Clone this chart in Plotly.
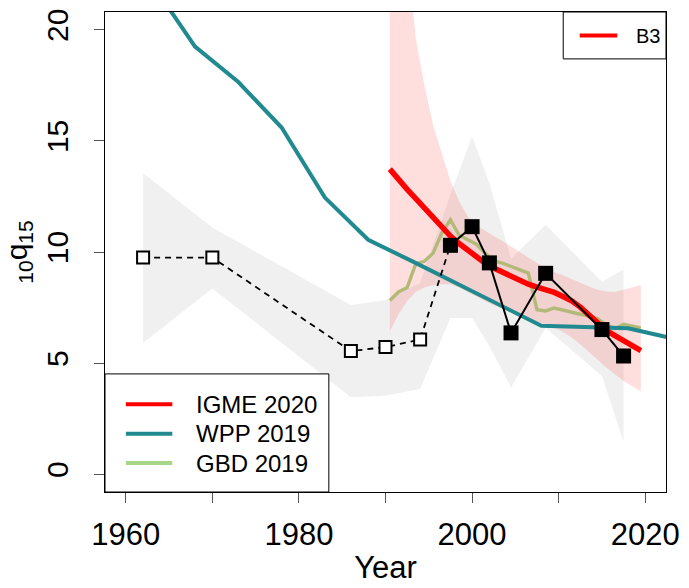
import plotly.graph_objects as go

# ---- data -------------------------------------------------------------
# UN IGME 2020 estimate (annual, plotted at mid-year) with 90% bounds
igme_year = [1990.5 + i for i in range(30)]
igme_val = [13.73, 13.25, 12.82, 12.40, 11.97, 11.54, 11.11, 10.72, 10.38, 10.06,
            9.76, 9.50, 9.28, 9.08, 8.90, 8.72, 8.55, 8.42, 8.33, 8.18,
            8.00, 7.80, 7.52, 7.18, 6.80, 6.47, 6.24, 6.00, 5.78, 5.56]
igme_upper = [35.0, 29.0, 23.5, 19.6, 17.5, 15.7, 14.4, 13.2, 12.3, 11.6,
              11.2, 10.95, 10.72, 10.5, 10.25, 10.0, 9.75, 9.5, 9.3, 9.1,
              8.95, 8.78, 8.6, 8.45, 8.3, 8.22, 8.2, 8.3, 8.42, 8.52]
igme_lower = [6.43, 7.2, 7.8, 8.2, 8.4, 8.5, 8.55, 8.55, 8.4, 8.2,
              8.0, 7.8, 7.6, 7.45, 7.3, 7.15, 7.0, 6.85, 6.75, 6.6,
              6.4, 6.15, 5.85, 5.5, 5.15, 4.8, 4.5, 4.2, 3.95, 3.72]

# WPP 2019
wpp_year = [1963, 1968, 1973, 1978, 1983, 1988, 1993, 1998, 2003, 2008, 2013, 2018, 2023]
wpp_val = [22.1, 19.24, 17.65, 15.6, 12.45, 10.55, 9.6, 8.62, 7.62, 6.68, 6.62, 6.57, 6.13]

# GBD 2019
gbd_year = [1990.5 + i for i in range(30)]
gbd_val = [7.82, 8.2, 8.4, 9.48, 9.58, 9.95, 10.85, 11.45, 10.75, 10.55,
           10.35, 9.95, 9.6, 9.5, 9.35, 9.2, 9.05, 7.4, 7.35, 7.48,
           7.38, 7.28, 7.2, 7.12, 7.0, 6.72, 6.55, 6.75, 6.68, 6.58]

# Survey-based estimates: indirect (open) and direct (filled) with intervals
ind_year = [1962, 1970, 1986, 1990, 1994]
ind_val = [9.75, 9.75, 5.54, 5.72, 6.06]
dir_year = [1997.5, 2000, 2002, 2004.5, 2008.5, 2015, 2017.5]
dir_val = [10.30, 11.14, 9.51, 6.36, 9.04, 6.51, 5.32]
svy_year = ind_year + dir_year
svy_upper = [13.56, 11.1, 7.62, 7.84, 8.6, 12.6, 15.2, 13.1, 9.7, 11.23, 8.66, 9.21]
svy_lower = [5.91, 8.36, 3.46, 3.53, 3.83, 7.03, 7.03, 5.76, 3.9, 6.58, 4.42, 1.46]

# axis ticks
x_labels = [1960, 1980, 2000, 2020]
y_labels = [0, 5, 10, 15, 20]

# ---- styles -----------------------------------------------------------
RED = "#FF0000"
TEAL = "#208A90"
GREEN = "#A8D68A"
FONT = "Liberation Sans, Arial, sans-serif"

fig = go.Figure()

# survey uncertainty band
fig.add_trace(go.Scatter(
    x=svy_year + svy_year[::-1], y=svy_upper + svy_lower[::-1],
    fill="toself", fillcolor="rgba(0,0,0,0.06)", line=dict(width=0),
    mode="lines", hoverinfo="skip", showlegend=False))

# GBD line
fig.add_trace(go.Scatter(x=gbd_year, y=gbd_val, mode="lines",
                         line=dict(color=GREEN, width=3.4), showlegend=False))

# IGME uncertainty band
fig.add_trace(go.Scatter(
    x=igme_year + igme_year[::-1], y=igme_upper + igme_lower[::-1],
    fill="toself", fillcolor="rgba(255,0,0,0.13)", line=dict(width=0),
    mode="lines", hoverinfo="skip", showlegend=False))

# WPP line
fig.add_trace(go.Scatter(x=wpp_year, y=wpp_val, mode="lines",
                         line=dict(color=TEAL, width=4), showlegend=False))

# IGME line
fig.add_trace(go.Scatter(x=igme_year, y=igme_val, mode="lines",
                         line=dict(color=RED, width=5.5), showlegend=False))

# indirect estimates, dashed, joined to the first direct estimate
fig.add_trace(go.Scatter(x=ind_year + dir_year[:1], y=ind_val + dir_val[:1],
                         mode="lines", line=dict(color="black", width=1.8, dash="6px,5px"),
                         showlegend=False))
fig.add_trace(go.Scatter(x=ind_year, y=ind_val, mode="markers",
                         marker=dict(symbol="square", size=12, color="white",
                                     line=dict(color="black", width=2)),
                         showlegend=False))

# direct estimates
fig.add_trace(go.Scatter(x=dir_year, y=dir_val, mode="lines+markers",
                         line=dict(color="black", width=2),
                         marker=dict(symbol="square", size=15, color="black"),
                         showlegend=False))

# ---- legends ----------------------------------------------------------
shapes = []
annotations = []

# bottom-left legend
shapes.append(dict(type="rect", xref="paper", yref="paper", x0=0, x1=0.399, y0=0, y1=0.246,
                   fillcolor="white", line=dict(color="black", width=1), layer="above"))
legend_items = [("IGME 2020", RED, 0.1827), ("WPP 2019", TEAL, 0.1216), ("GBD 2019", GREEN, 0.0604)]
for label, col, yy in legend_items:
    shapes.append(dict(type="line", xref="paper", yref="paper", x0=0.0372, x1=0.12, y0=yy, y1=yy,
                       line=dict(color=col, width=4), layer="above"))
    annotations.append(dict(text=label, xref="paper", yref="paper", x=0.1583, y=yy,
                            xanchor="left", yanchor="middle", showarrow=False,
                            font=dict(family=FONT, size=24, color="black")))

# top-right legend
shapes.append(dict(type="rect", xref="paper", yref="paper", x0=0.8168, x1=1.0, y0=0.9023, y1=1.0,
                   fillcolor="white", line=dict(color="black", width=1), layer="above"))
shapes.append(dict(type="line", xref="paper", yref="paper", x0=0.8463, x1=0.9131, y0=0.951, y1=0.951,
                   line=dict(color=RED, width=4), layer="above"))
annotations.append(dict(text="B3", xref="paper", yref="paper", x=0.9427, y=0.951,
                        xanchor="left", yanchor="middle", showarrow=False,
                        font=dict(family=FONT, size=20, color="black")))

fig.update_layout(
    width=689, height=588,
    margin=dict(l=105, r=20, t=9, b=94),
    paper_bgcolor="white", plot_bgcolor="white",
    font=dict(family=FONT, color="black"),
    shapes=shapes, annotations=annotations,
    showlegend=False,
)

fig.update_xaxes(
    range=[1957.6, 2022.4], autorange=False,
    tickvals=x_labels, ticktext=[str(v) for v in x_labels],
    ticks="outside", ticklen=10, tickcolor="#555", tickwidth=1,
    minor=dict(dtick=10, tick0=1960, ticks="outside", ticklen=10, tickcolor="#555", tickwidth=1),
    tickfont=dict(size=31, family=FONT), ticklabelstandoff=5,
    showgrid=False, zeroline=False,
    showline=True, linecolor="black", linewidth=1, mirror=True,
    title=dict(text="Year", font=dict(size=31, family=FONT), standoff=5),
)
fig.update_yaxes(
    range=[-0.8, 20.8], autorange=False,
    tickvals=y_labels, ticktext=[str(v) for v in y_labels],
    ticks="outside", ticklen=10, tickcolor="#555", tickwidth=1,
    tickfont=dict(size=30, family=FONT), tickangle=-90, ticklabelstandoff=14,
    showgrid=False, zeroline=False,
    showline=True, linecolor="black", linewidth=1, mirror=True,
    title=dict(text="<sub>10</sub>q<sub>15</sub>", font=dict(size=30, family=FONT), standoff=4),
)

fig.write_html("out.html")
